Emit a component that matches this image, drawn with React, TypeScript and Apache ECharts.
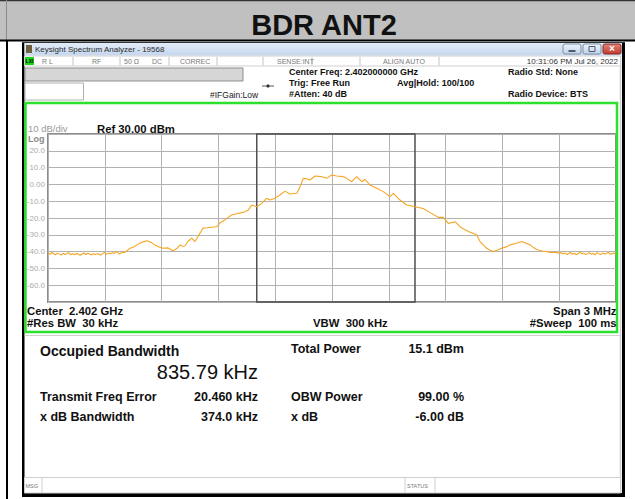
import React, { useEffect, useRef } from "react";
import * as echarts from "echarts";

// ---- Trace data (offset from 2.402 GHz centre, kHz / dBm)
const floorLeftKHz = [-1500, -1490, -1480, -1470, -1460, -1450, -1440, -1430, -1420, -1410, -1400, -1390, -1380, -1370, -1360, -1350, -1340, -1330, -1320, -1310, -1300, -1290, -1280, -1270, -1260, -1250, -1240, -1230, -1220, -1210, -1200, -1190, -1180, -1170, -1160, -1150, -1140, -1130, -1120, -1110, -1100];
const floorLeftDbm = [-40.8, -41.6, -40.5, -41.3, -41.9, -40.9, -41.5, -42.1, -41.0, -41.7, -41.2, -40.6, -41.8, -41.3, -41.9, -41.1, -41.6, -42.2, -41.4, -40.8, -41.7, -41.0, -41.5, -42.0, -41.3, -41.8, -41.2, -41.6, -42.1, -41.0, -40.4, -41.5, -40.9, -41.3, -40.6, -41.2, -39.9, -40.8, -41.4, -40.3, -40.7];
const bandKHz = [-1085, -1067, -1050, -1031, -1005, -979, -957, -935, -913, -893, -866, -840, -820, -803, -790, -777, -761, -741, -724, -710, -697, -681, -660, -635, -609, -592, -565, -548, -530, -505, -477, -460, -442, -424, -398, -371, -345, -327, -301, -275, -248, -222, -186, -169, -152, -134, -116, -90, -54, -28, -2, 25, 48, 69, 104, 130, 157, 174, 201, 236, 271, 306, 324, 359, 395, 438, 482, 518, 561, 588, 614, 650, 676, 700, 729, 764, 782, 800, 817, 835, 852, 875, 896, 920, 940, 970, 1002, 1025, 1046, 1065, 1081, 1110, 1134, 1160, 1180, 1200];
const bandDbm = [-39.6, -38.0, -37.4, -36.0, -34.5, -33.5, -34.4, -36.0, -37.2, -38.0, -37.8, -39.5, -38.2, -36.0, -36.8, -36.7, -34.0, -32.0, -34.0, -31.5, -29.0, -26.0, -25.8, -25.5, -25.2, -23.0, -21.0, -19.6, -18.2, -17.5, -16.8, -16.3, -15.2, -12.3, -13.3, -11.3, -8.3, -9.3, -8.3, -6.3, -4.0, -5.7, -5.3, -1.4, 3.6, 3.4, 2.6, 5.0, 4.6, 3.6, 5.6, 5.0, 4.8, 4.2, 1.6, 4.6, 1.6, 3.0, -0.4, -2.3, -4.3, -7.3, -5.3, -9.3, -12.3, -13.3, -14.3, -16.8, -19.6, -19.6, -23.2, -22.2, -25.2, -26.8, -28.5, -30.0, -34.0, -36.2, -38.0, -39.2, -40.0, -39.0, -38.0, -37.2, -36.0, -35.2, -34.0, -35.0, -36.0, -37.6, -38.7, -39.6, -40.0, -40.6, -40.3, -41.0];
const floorRightKHz = [1210, 1220, 1230, 1240, 1250, 1260, 1270, 1280, 1290, 1300, 1310, 1320, 1330, 1340, 1350, 1360, 1370, 1380, 1390, 1400, 1410, 1420, 1430, 1440, 1450, 1460, 1470, 1480, 1490, 1500];
const floorRightDbm = [-40.6, -41.3, -40.8, -41.7, -41.1, -40.5, -41.6, -41.0, -41.9, -41.3, -40.2, -41.4, -40.9, -41.8, -41.2, -40.7, -41.5, -41.1, -41.9, -40.6, -41.3, -41.7, -40.9, -41.4, -41.0, -40.5, -41.6, -41.2, -40.8, -41.5];

const obwKHz = 835.79;
const freqErrorKHz = 20.46;
const spanKHz = 3000;
const refLevel = 30;
const bottomLevel = -70;
const dbPerDiv = 10;

const statusLabels = ["R L", "RF", "50 Ω", "DC", "CORREC", "SENSE:INT", "ALIGN AUTO"];
const resultLabelsLeft = ["Transmit Freq Error", "x dB Bandwidth"];
const resultValuesLeft = ["20.460 kHz", "374.0 kHz"];
const resultLabelsRight = ["Total Power", "OBW Power", "x dB"];
const resultValuesRight = ["15.1 dBm", "99.00 %", "-6.00 dB"];

const FONT = "'Liberation Sans', Arial, Helvetica, sans-serif";

function txt(text: string, x: number, y: number, size: number, opts: any = {}) {
  const align = opts.align || "left";
  return {
    type: "text",
    x,
    y,
    z: 20,
    silent: true,
    style: {
      text,
      font: `${opts.bold ? "bold " : ""}${size}px ${FONT}`,
      fill: opts.color || "#111",
      align,
      textAlign: align,
      verticalAlign: "middle",
      textVerticalAlign: "middle",
    },
  };
}

function box(x: number, y: number, w: number, h: number, fill: any, stroke?: string, lw = 1, r = 0) {
  return {
    type: "rect",
    z: 10,
    silent: true,
    shape: { x, y, width: w, height: h, r },
    style: { fill, stroke: stroke || null, lineWidth: lw },
  };
}

function vline(x: number, y1: number, y2: number, color: string, lw = 1) {
  return {
    type: "line",
    z: 10,
    silent: true,
    shape: { x1: x, y1, x2: x, y2 },
    style: { stroke: color, lineWidth: lw },
  };
}

export default function App() {
  const ref = useRef<HTMLDivElement>(null);

  useEffect(() => {
    if (!ref.current) return;
    const chart = echarts.init(ref.current, null, { renderer: "svg" });

    const freqs = [...floorLeftKHz, ...bandKHz, ...floorRightKHz];
    const levels = [...floorLeftDbm, ...bandDbm, ...floorRightDbm];
    const data = freqs.map((f, i) => [f, levels[i]]);

    const obwLow = freqErrorKHz - obwKHz / 2;
    const obwHigh = freqErrorKHz + obwKHz / 2;

    const titleGrad = new echarts.graphic.LinearGradient(0, 0, 0, 1, [
      { offset: 0, color: "#e3ecf8" },
      { offset: 1, color: "#c4d6ee" },
    ]);
    const btnGrad = new echarts.graphic.LinearGradient(0, 0, 0, 1, [
      { offset: 0, color: "#eef3fa" },
      { offset: 1, color: "#c2d2ea" },
    ]);
    const closeGrad = new echarts.graphic.LinearGradient(0, 0, 0, 1, [
      { offset: 0, color: "#e0857a" },
      { offset: 1, color: "#c0392b" },
    ]);

    const statusX = [42, 92, 124, 152, 180, 277, 383];
    const sepX = [73, 120, 169, 217, 263, 312, 360, 439];

    const graphics: any[] = [
      // header band
      box(0, 0, 635, 40, "#c0c0c0"),
      box(0, 0, 635, 1.2, "#333"),
      vline(6.5, 0, 40, "#8a8a8a", 1),
      box(0, 39.5, 635, 2, "#000"),
      txt("BDR ANT2", 324, 25, 29, { bold: true, align: "center", color: "#111" }),
      // outer table left line
      box(6, 41, 2, 458, "#000"),
      // window borders
      box(22, 42, 2.5, 455, "#000"),
      box(622, 42, 3, 455, "#000"),
      box(22, 493, 603, 4, "#000"),
      box(22, 42, 603, 1, "#333"),
      vline(620.5, 56, 493, "#cfcfcf", 1.5),
      // title bar
      box(24.5, 43, 597.5, 12.5, titleGrad),
      box(26, 45, 6, 8, "#6e5f3e"),
      txt("Keysight Spectrum Analyzer - 19568", 35, 49.5, 8, { color: "#2a2a2a" }),
      box(563, 44, 18, 10, btnGrad, "#7d8fa9", 1, 2),
      box(568.5, 50, 7, 2, "#4a5a70"),
      box(583, 44, 18, 10, btnGrad, "#7d8fa9", 1, 2),
      box(589, 46.5, 6, 5, null, "#4a5a70", 1),
      box(603, 44, 18, 10, closeGrad, "#8a2a24", 1, 2),
      txt("×", 612, 48.8, 10, { bold: true, align: "center", color: "#fff" }),
      // status row
      box(24.5, 56, 596, 10, "#ffffff", "#d0d0d0", 1),
      box(25, 57, 9, 8, "#1ed61e"),
      txt("LXI", 29.5, 61, 5, { bold: true, align: "center", color: "#000" }),
      ...sepX.map((x) => vline(x, 57, 65.5, "#c4c4c4", 1)),
      ...statusLabels.map((s, i) => txt(s, statusX[i], 61.2, 7, { color: "#7a7a7a" })),
      txt("10:31:06 PM Jul 26, 2022", 618, 61.2, 8, { align: "right", color: "#333" }),
      // info area
      box(25, 68, 218, 13, "#d6d6d6", "#8e8e8e", 1),
      box(25, 83, 58.5, 17, "#ffffff", "#b0b0b0", 1),
      txt("#IFGain:Low", 210, 94.5, 8.5, { color: "#222" }),
      {
        type: "polyline",
        z: 10,
        silent: true,
        shape: { points: [[262, 86], [274, 86]] },
        style: { stroke: "#333", lineWidth: 0.8 },
      },
      { type: "circle", z: 11, silent: true, shape: { cx: 268, cy: 86, r: 1.6 }, style: { fill: "#333" } },
      txt("Center Freq: 2.402000000 GHz", 289, 72, 9, { bold: true }),
      txt("Trig: Free Run", 289, 82.5, 9, { bold: true }),
      txt("#Atten: 40 dB", 289, 93.5, 9, { bold: true }),
      txt("Avg|Hold: 100/100", 397, 82.5, 9, { bold: true }),
      txt("Radio Std: None", 508, 72, 9, { bold: true }),
      txt("Radio Device: BTS", 508, 93.5, 9, { bold: true }),
      // green frame around plot
      box(25.5, 103, 591.5, 229, null, "#2de02d", 2.5),
      txt("10 dB/div", 28, 128.5, 9.5, { color: "#9a9a9a" }),
      txt("Ref 30.00 dBm", 97, 128.5, 11.3, { bold: true }),
      txt("Log", 28, 138.5, 9, { bold: true, color: "#8a8a8a" }),
      txt("Center  2.402 GHz", 27, 310.5, 11.3, { bold: true }),
      txt("#Res BW  30 kHz", 27, 323, 11.3, { bold: true }),
      txt("VBW  300 kHz", 313, 323, 11.3, { bold: true }),
      txt("Span 3 MHz", 616.5, 310.5, 11.3, { bold: true, align: "right" }),
      txt("#Sweep  100 ms", 616.5, 323, 11.3, { bold: true, align: "right" }),
      // results panel
      box(24.5, 335, 596, 1, "#cfcfcf"),
      txt("Occupied Bandwidth", 40, 351, 14, { bold: true }),
      txt(`${obwKHz.toFixed(2)} kHz`, 258, 372, 20, { align: "right" }),
      ...resultLabelsLeft.map((s, i) => txt(s, 40, 396.5 + i * 20.5, 12.5, { bold: true })),
      ...resultValuesLeft.map((s, i) => txt(s, 258, 396.5 + i * 20.5, 12.5, { bold: true, align: "right" })),
      txt(resultLabelsRight[0], 291, 349, 12.5, { bold: true }),
      txt(resultValuesRight[0], 464, 349, 12.5, { bold: true, align: "right" }),
      ...resultLabelsRight.slice(1).map((s, i) => txt(s, 291, 396.5 + i * 20.5, 12.5, { bold: true })),
      ...resultValuesRight.slice(1).map((s, i) => txt(s, 464, 396.5 + i * 20.5, 12.5, { bold: true, align: "right" })),
      // bottom status bar
      box(24.5, 477.5, 596, 15.5, "#ffffff", "#cfcfcf", 1),
      vline(42, 478, 493, "#cfcfcf", 1),
      vline(405, 478, 493, "#cfcfcf", 1),
      vline(435, 478, 493, "#cfcfcf", 1),
      txt("MSG", 25.5, 485.5, 5.5, { color: "#777" }),
      txt("STATUS", 407, 485.5, 5.5, { color: "#777" }),
    ];

    chart.setOption({
      animation: false,
      backgroundColor: "transparent",
      grid: {
        left: 48,
        top: 134,
        width: 568,
        height: 168,
        show: true,
        borderColor: "#8c8c8c",
        borderWidth: 2,
        backgroundColor: "transparent",
      },
      xAxis: {
        type: "value",
        min: -spanKHz / 2,
        max: spanKHz / 2,
        interval: spanKHz / 10,
        axisLine: { show: false },
        axisTick: { show: false },
        axisLabel: { show: false },
        splitLine: { show: true, lineStyle: { color: "#b2b2b2", width: 1 } },
      },
      yAxis: {
        type: "value",
        min: bottomLevel,
        max: refLevel,
        interval: dbPerDiv,
        axisLine: { show: false },
        axisTick: { show: false },
        axisLabel: {
          show: true,
          margin: 3,
          fontSize: 8,
          fontFamily: FONT,
          color: "#ababab",
          showMinLabel: false,
          showMaxLabel: false,
          formatter: (v: number) => (v === 0 ? "0.00" : v.toFixed(1)),
        },
        splitLine: { show: true, lineStyle: { color: "#b2b2b2", width: 1 } },
      },
      graphic: { elements: graphics },
      series: [
        {
          type: "line",
          data,
          showSymbol: false,
          symbol: "none",
          silent: true,
          lineStyle: { color: "#f6a623", width: 1.1 },
          markArea: {
            silent: true,
            itemStyle: { color: "rgba(0,0,0,0)", borderColor: "#505050", borderWidth: 1.5 },
            data: [[{ xAxis: obwLow, yAxis: bottomLevel }, { xAxis: obwHigh, yAxis: refLevel }]],
          },
        },
      ],
    });

    return () => chart.dispose();
  }, []);

  return (
    <div
      ref={ref}
      style={{ position: "absolute", left: 0, top: 0, width: 635, height: 499, background: "#fff" }}
    />
  );
}
